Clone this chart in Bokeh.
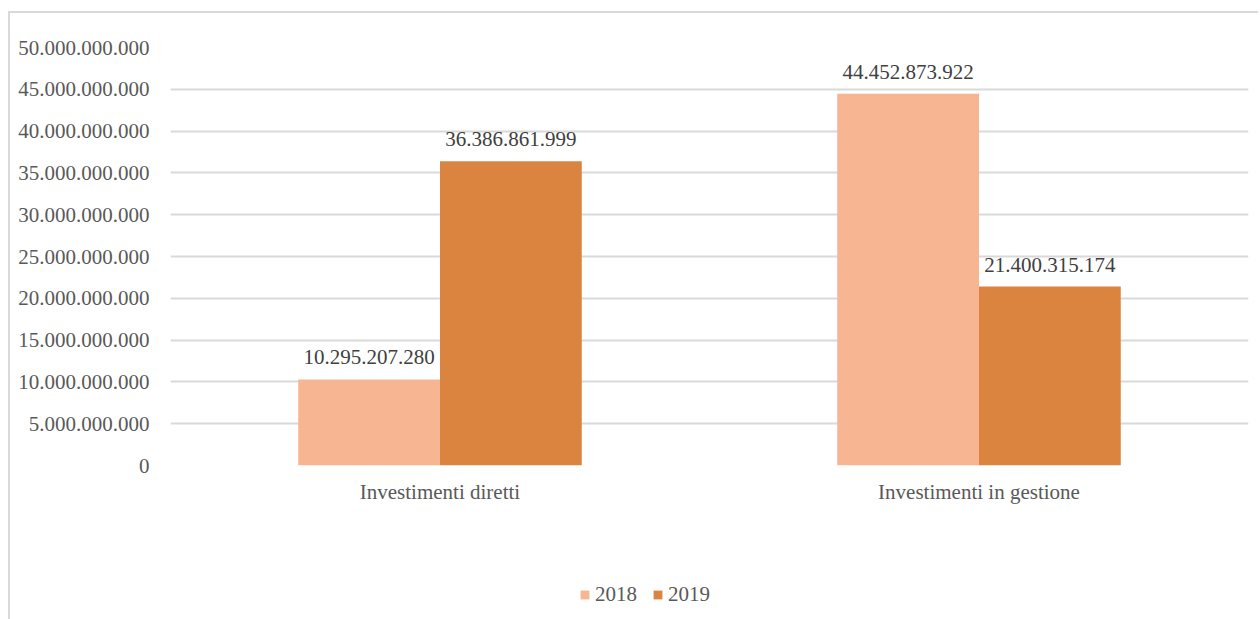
from bokeh.plotting import figure
from bokeh.layouts import column
from bokeh.models import (ColumnDataSource, Range1d, FactorRange, CustomJSTickFormatter,
                          Legend, LegendItem, LabelSet)
from bokeh.transform import dodge
from bokeh.embed import file_html
from bokeh.resources import INLINE

categories = ["Investimenti diretti", "Investimenti in gestione"]
years = ["2018", "2019"]
values_2018 = [10295207280, 44452873922]
values_2019 = [36386861999, 21400315174]
y_ticks = [0, 5e9, 10e9, 15e9, 20e9, 25e9, 30e9, 35e9, 40e9, 45e9, 50e9]

FONT = "Liberation Serif"
FS = "21px"
C2018 = "#F8B591"
C2019 = "#DB843F"

def fmt(v):
    return f"{int(v):,}".replace(",", ".")

src = ColumnDataSource(dict(
    cat=categories,
    v2018=values_2018,
    v2019=values_2019,
    l2018=[fmt(v) for v in values_2018],
    l2019=[fmt(v) for v in values_2019],
))

W = 1248
p = figure(x_range=FactorRange(*categories), y_range=Range1d(0, 50e9),
           width=W, height=505, output_backend="svg", toolbar_location=None,
           min_border_left=160, min_border_right=10, min_border_top=34, min_border_bottom=53)
p.outline_line_color = None
p.background_fill_color = "white"
p.border_fill_color = "white"

bw = 0.263
r1 = p.vbar(x=dodge("cat", -bw / 2, range=p.x_range), top="v2018", width=bw,
            source=src, fill_color=C2018, line_color=None)
r2 = p.vbar(x=dodge("cat", bw / 2, range=p.x_range), top="v2019", width=bw,
            source=src, fill_color=C2019, line_color=None)

for col, lab, off in [("v2018", "l2018", -bw / 2), ("v2019", "l2019", bw / 2)]:
    ls = LabelSet(x=dodge("cat", off, range=p.x_range), y=col, text=lab, source=src,
                  text_align="center", text_baseline="bottom", y_offset=15,
                  text_font=FONT, text_font_size=FS, text_color="#404040")
    p.add_layout(ls)

p.yaxis.ticker = y_ticks
p.yaxis.formatter = CustomJSTickFormatter(code="""
return Math.round(tick).toString().replace(/\\B(?=(\\d{3})+(?!\\d))/g, ".");
""")
for ax in (p.xaxis, p.yaxis):
    ax.axis_line_color = None
    ax.major_tick_line_color = None
    ax.minor_tick_line_color = None
    ax.major_label_text_font = FONT
    ax.major_label_text_font_size = FS
    ax.major_label_text_color = "#595959"
p.yaxis.major_label_standoff = 15
p.xaxis.major_label_standoff = 8

p.xgrid.grid_line_color = None
p.ygrid.grid_line_color = "#d9d9d9"
p.ygrid.grid_line_width = 2
p.ygrid.ticker = y_ticks

# legend strip below the chart (zero-height proxy glyphs, nothing visible drawn)
p2 = figure(x_range=Range1d(0, 1), y_range=Range1d(0, 1), width=W, height=101,
            output_backend="svg", toolbar_location=None,
            min_border_left=0, min_border_right=0, min_border_top=0, min_border_bottom=0)
p2.axis.visible = False
p2.grid.visible = False
p2.outline_line_color = None
p2.border_fill_color = "white"
proxy = ColumnDataSource(dict(x=[0.5], top=[0.0]))
g1 = p2.vbar(x="x", top="top", bottom=0, width=0.0, source=proxy,
             fill_color=C2018, line_color=None)
g2 = p2.vbar(x="x", top="top", bottom=0, width=0.0, source=proxy,
             fill_color=C2019, line_color=None)
legend = Legend(items=[LegendItem(label=years[0], renderers=[g1]),
                       LegendItem(label=years[1], renderers=[g2])],
                orientation="horizontal", location=(409, 12),
                label_text_font=FONT, label_text_font_size=FS,
                label_text_color="#595959", glyph_width=11, glyph_height=11,
                label_standoff=5, spacing=15, border_line_color=None,
                background_fill_alpha=0, margin=0, padding=0)
p2.add_layout(legend, "center")

layout = column(p, p2, spacing=0)
layout.styles = {"border-left": "2px solid #d9d9d9", "border-top": "2px solid #d9d9d9"}
layout.margin = (11, 0, 0, 8)

open("out.html", "w").write(file_html(layout, INLINE))
